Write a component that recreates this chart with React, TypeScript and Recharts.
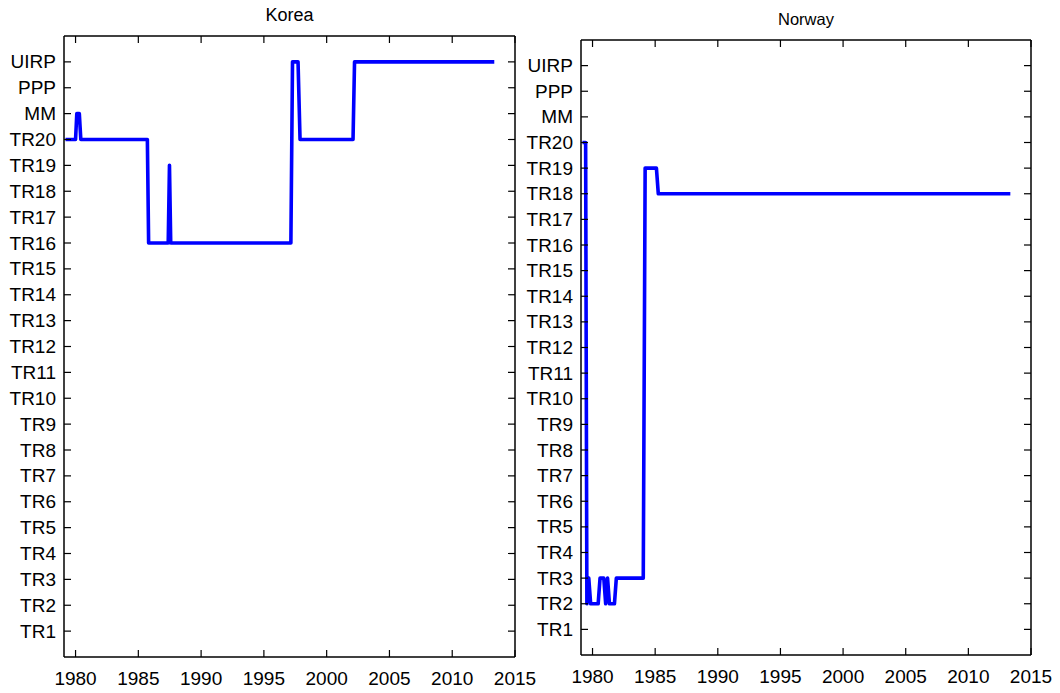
import { LineChart, Line, XAxis, YAxis } from "recharts";

const yearTicks = [1980, 1985, 1990, 1995, 2000, 2005, 2010, 2015];
const modelTicks = [1, 2, 3, 4, 5, 6, 7, 8, 9, 10, 11, 12, 13, 14, 15, 16, 17, 18, 19, 20, 21, 22, 23];
const modelLabels = [
  "TR1", "TR2", "TR3", "TR4", "TR5", "TR6", "TR7", "TR8", "TR9", "TR10",
  "TR11", "TR12", "TR13", "TR14", "TR15", "TR16", "TR17", "TR18", "TR19", "TR20",
  "MM", "PPP", "UIRP",
];

// selected model over time (1 = TR1 ... 20 = TR20, 21 = MM, 22 = PPP, 23 = UIRP)
const koreaYears = [
  1979.2, 1980.0, 1980.1, 1980.3, 1980.42, 1985.72, 1985.82, 1987.38, 1987.48, 1987.58,
  1997.15, 1997.28, 1997.72, 1997.88, 2002.1, 2002.22, 2013.35,
];
const koreaModel = [20, 20, 21, 21, 20, 20, 16, 16, 19, 16, 16, 23, 23, 20, 20, 23, 23];

const norwayYears = [
  1979.2, 1979.45, 1979.55, 1979.7, 1979.85, 1980.45, 1980.6, 1980.9, 1981.05, 1981.2,
  1981.35, 1981.75, 1981.9, 1984.05, 1984.2, 1985.1, 1985.25, 2013.35,
];
const norwayModel = [20, 20, 2, 3, 2, 2, 3, 3, 2, 3, 2, 2, 3, 3, 19, 19, 18, 18];

const FONT = "'Liberation Sans', Arial, Helvetica, sans-serif";
const TICK = 7;
const FS = 19;
const DOMAIN_X: [number, number] = [1979.08, 2015];
const DOMAIN_Y: [number, number] = [0, 24];

const leftTick = (p: any) => (
  <g>
    <line x1={p.x} x2={p.x + TICK} y1={p.y} y2={p.y} stroke="#000" strokeWidth={1.2} />
    <text x={p.x - 8} y={p.y} textAnchor="end" dominantBaseline="central" fontSize={FS} fontFamily={FONT} fill="#000">
      {modelLabels[p.payload.value - 1]}
    </text>
  </g>
);

const rightTick = (p: any) => (
  <line x1={p.x} x2={p.x - TICK} y1={p.y} y2={p.y} stroke="#000" strokeWidth={1.2} />
);

const bottomTick = (p: any) => (
  <g>
    <line x1={p.x} x2={p.x} y1={p.y} y2={p.y - TICK} stroke="#000" strokeWidth={1.2} />
    <text x={p.x} y={p.y + 21} textAnchor="middle" dominantBaseline="central" fontSize={FS} fontFamily={FONT} fill="#000">
      {p.payload.value}
    </text>
  </g>
);

const topTick = (p: any) => (
  <line x1={p.x} x2={p.x} y1={p.y} y2={p.y + TICK} stroke="#000" strokeWidth={1.2} />
);

interface PanelProps {
  title: string;
  titleSize: number;
  years: number[];
  values: number[];
  left: number;
  plotLeft: number;
  plotRight: number;
  plotTop: number;
  plotBottom: number;
  titleY: number;
}

function Panel({ title, titleSize, years, values, left, plotLeft, plotRight, plotTop, plotBottom, titleY }: PanelProps) {
  const W = 530;
  const H = 693;
  const data = years.map((x, i) => ({ x, y: values[i] }));
  const axisLine = { stroke: "#000", strokeWidth: 1.5 };
  return (
    <div style={{ position: "absolute", left, top: 0, width: W, height: H }}>
      <div
        style={{
          position: "absolute",
          left: plotLeft,
          width: plotRight - plotLeft,
          top: titleY - 11,
          textAlign: "center",
          fontFamily: FONT,
          fontSize: titleSize,
          lineHeight: "22px",
          color: "#000",
        }}
      >
        {title}
      </div>
      <LineChart
        width={W}
        height={H}
        data={data}
        margin={{ top: plotTop - 1, right: W - plotRight - 1, bottom: 0, left: 0 }}
      >
        <XAxis
          xAxisId="b"
          dataKey="x"
          type="number"
          domain={DOMAIN_X}
          allowDataOverflow
          ticks={yearTicks}
          interval={0}
          height={H - plotBottom}
          tickSize={0}
          tickMargin={0}
          tickLine={false}
          axisLine={axisLine}
          tick={bottomTick}
        />
        <XAxis
          xAxisId="t"
          orientation="top"
          dataKey="x"
          type="number"
          domain={DOMAIN_X}
          allowDataOverflow
          ticks={yearTicks}
          interval={0}
          height={1}
          tickSize={0}
          tickMargin={0}
          tickLine={false}
          axisLine={axisLine}
          tick={topTick}
        />
        <YAxis
          yAxisId="l"
          type="number"
          domain={DOMAIN_Y}
          allowDataOverflow
          ticks={modelTicks}
          interval={0}
          width={plotLeft}
          tickSize={0}
          tickMargin={0}
          tickLine={false}
          axisLine={axisLine}
          tick={leftTick}
        />
        <YAxis
          yAxisId="r"
          orientation="right"
          type="number"
          domain={DOMAIN_Y}
          allowDataOverflow
          ticks={modelTicks}
          interval={0}
          width={1}
          tickSize={0}
          tickMargin={0}
          tickLine={false}
          axisLine={axisLine}
          tick={rightTick}
        />
        <Line
          xAxisId="t"
          yAxisId="r"
          dataKey="y"
          stroke="none"
          dot={false}
          activeDot={false}
          isAnimationActive={false}
        />
        <Line
          xAxisId="b"
          yAxisId="l"
          type="linear"
          dataKey="y"
          stroke="#0000ff"
          strokeWidth={3.6}
          strokeLinejoin="round"
          dot={false}
          activeDot={false}
          isAnimationActive={false}
        />
      </LineChart>
    </div>
  );
}

export default function App() {
  return (
    <div style={{ position: "absolute", left: 0, top: 0, width: 1060, height: 693, background: "#fff" }}>
      <style>{".recharts-surface{overflow:visible}"}</style>
      <Panel
        title="Korea"
        titleSize={18}
        years={koreaYears}
        values={koreaModel}
        left={0}
        plotLeft={64}
        plotRight={515}
        plotTop={36}
        plotBottom={657}
        titleY={15}
      />
      <Panel
        title="Norway"
        titleSize={16.5}
        years={norwayYears}
        values={norwayModel}
        left={530}
        plotLeft={51}
        plotRight={501}
        plotTop={40}
        plotBottom={655}
        titleY={19}
      />
    </div>
  );
}
